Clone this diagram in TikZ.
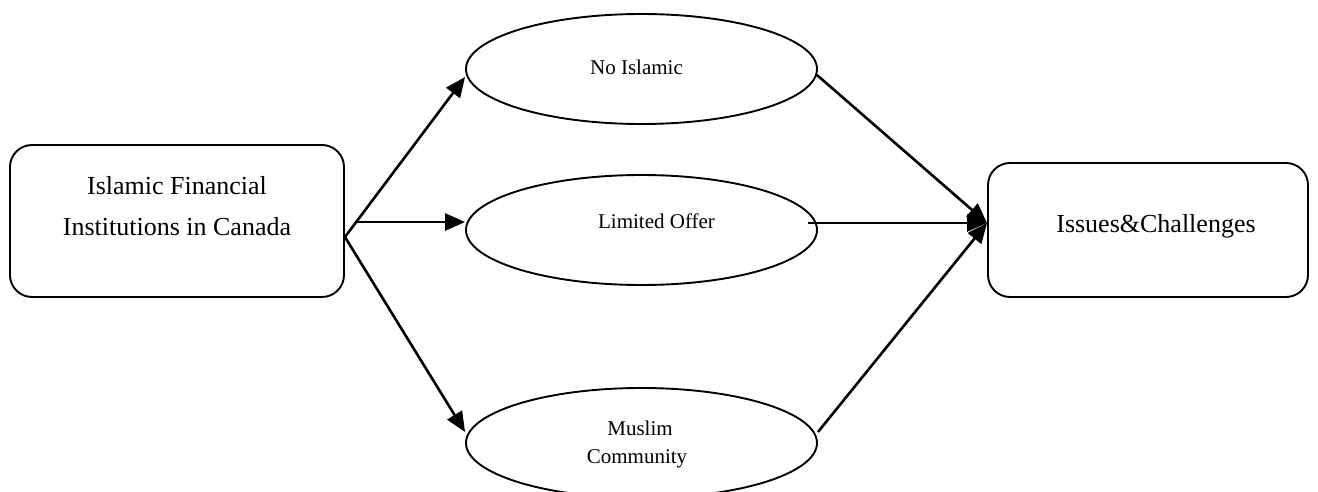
\documentclass[tikz,border=0pt]{standalone}
\usepackage{fontspec}
\setmainfont{Liberation Serif}
\usetikzlibrary{arrows.meta,calc,shapes.geometric}
\begin{document}
\begin{tikzpicture}[x=1pt,y=-1pt,
  boxst/.style={draw, line width=1.9pt, rounded corners=22pt, inner sep=0pt},
  ellst/.style={draw, ellipse, line width=1.9pt, inner sep=0pt, minimum width=351pt, minimum height=110pt},
  bigtxt/.style={font=\fontsize{26}{26}\selectfont, anchor=base, inner sep=0pt},
  smalltxt/.style={font=\fontsize{21}{21}\selectfont, anchor=base, inner sep=0pt},
  arr/.style={line width=2.6pt, -{Triangle[length=20pt,width=17pt]}}]
\useasboundingbox (0,0) rectangle (1318,492);
% boxes
\node[boxst, minimum width=334pt, minimum height=152pt] (lb) at (177,221) {};
\node[boxst, minimum width=320pt, minimum height=134pt] (rb) at (1148,230) {};
\node[bigtxt] (lt1) at (177,194) {Islamic Financial};
\node[bigtxt] (lt2) at (177,236) {Institutions in Canada};
\node[bigtxt] (rt) at (1156,232) {Issues\&Challenges};
% ellipses
\node[ellst] (e1) at (641.5,69) {};
\node[ellst] (e2) at (641.5,230) {};
\node[ellst] (e3) at (641.5,443) {};
\node[smalltxt] (t1) at (636.5,75) {No Islamic};
\node[smalltxt] (t2) at (656.5,228) {Limited Offer};
\node[smalltxt] (t3a) at (640,435) {Muslim};
\node[smalltxt] (t3b) at (637,463) {Community};
% connector points
\coordinate (fan) at ($(lb.east)+(0,16)$);
\coordinate (hstart) at ($(lb.east)+(11,1)$);
\coordinate (e1in) at ($(e1.west)+(0,8)$);
\coordinate (e3in) at ($(e3.west)+(0,-11)$);
\coordinate (e1out) at ($(e1.east)+(-1,6)$);
\coordinate (e2out) at ($(e2.east)+(-10,-7)$);
\coordinate (e3out) at ($(e3.east)+(0,-11)$);
\coordinate (rin) at ($(rb.west)+(0,-7)$);
% arrows
\draw[arr] (fan) -- (e1in);
\draw[arr] (hstart) -- (hstart -| e2.west);
\draw[arr] (fan) -- (e3in);
\draw[arr] (e1out) -- (rin);
\draw[arr] (e2out) -- (rin);
\draw[arr] (e3out) -- (rin);
\end{tikzpicture}
\end{document}
